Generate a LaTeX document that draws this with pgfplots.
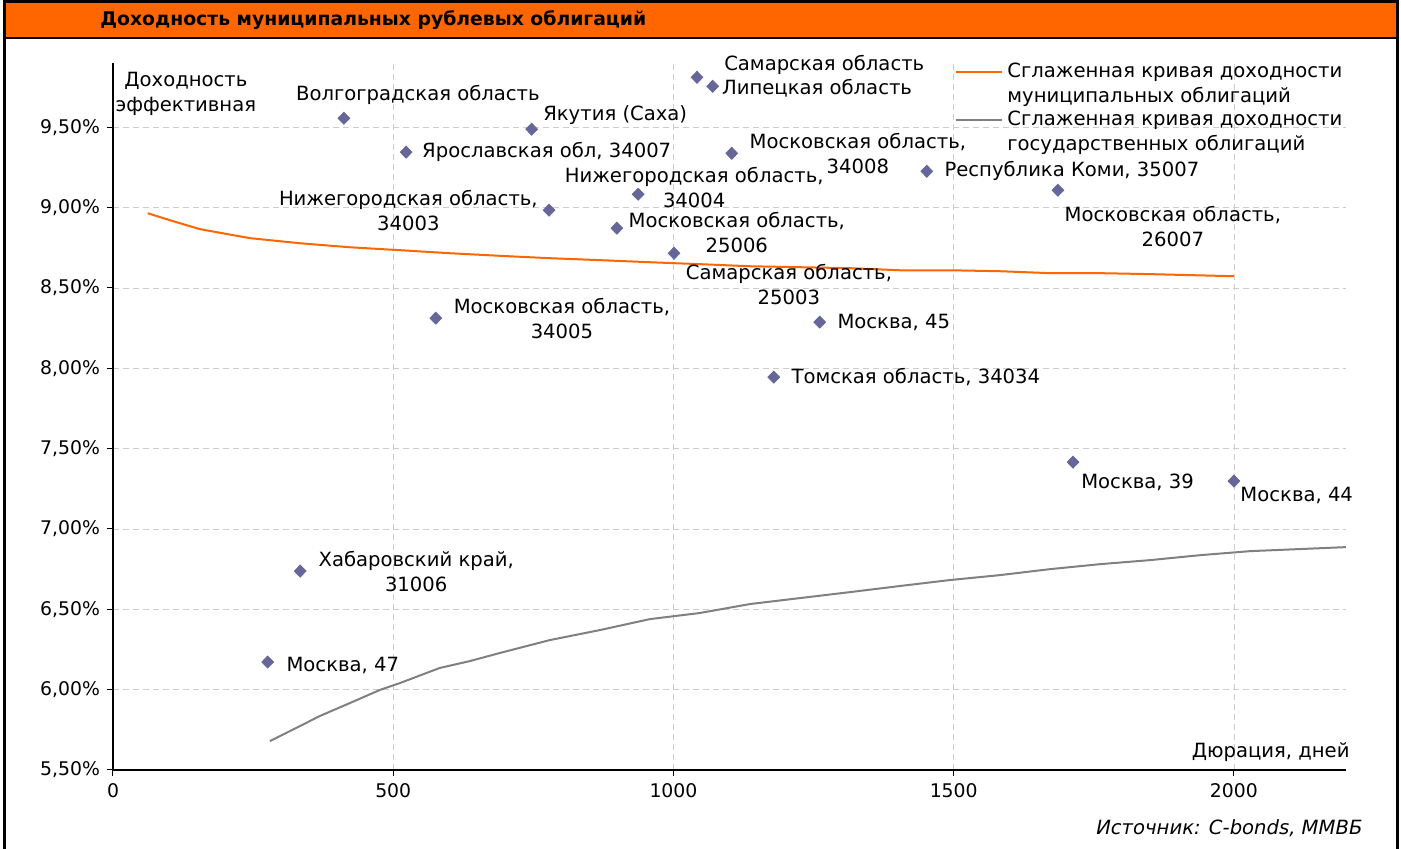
\documentclass[border=0pt]{standalone}
\usepackage{fontspec}
\setmainfont{DejaVu Sans}
\usepackage{pgfplots}
\pgfplotsset{compat=1.18}
\definecolor{orng}{HTML}{FF6600}
\definecolor{dotc}{HTML}{666699}
\definecolor{gcurve}{HTML}{808080}
\newcommand\lbl{\fontsize{9.8}{12.5}\selectfont}
\newcommand\tck{\fontsize{9.4}{12}\selectfont}

\begin{document}
\begin{tikzpicture}
\path[use as bounding box] (-56.5pt,-39.5pt) rectangle (644pt,385pt);
% frame and title bar
\fill[orng] (-54pt,366pt) rectangle (642pt,384pt);
\draw[line width=1.5pt] (-54pt,-41pt) -- (-54pt,384pt) -- (642pt,384pt) -- (642pt,-41pt);
\draw[line width=1.2pt] (-54pt,366pt) -- (642pt,366pt);
\node[anchor=west, font=\tck\bfseries, inner sep=0pt] at (-6.5pt,375pt) {Доходность муниципальных рублевых облигаций};

\begin{axis}[
    at={(0,0)}, anchor=south west,
    scale only axis,
    width=616.5pt, height=353.5pt,
    xmin=0, xmax=2200, ymin=5.5, ymax=9.9,
    axis lines=left,
    axis line style={-, black, line width=0.6pt},
    xtick={0,500,...,2000},
    ytick={5.5,6,...,9.5},
    tick align=outside,
    major tick length=3pt,
    tick style={black, line width=0.5pt},
    xmajorgrids, ymajorgrids,
    grid style={densely dashed, gray!40, line width=0.4pt},
    tick label style={font=\tck},
    /pgf/number format/assume math mode=true,
    /pgf/number format/1000 sep={},
    yticklabel={\pgfmathprintnumber[fixed,fixed zerofill,precision=2,use comma]{\tick}\%},
    clip=false,
    legend style={draw=none, fill=none, at={(rel axis cs:0.678,1.012)},
        anchor=north west, font=\lbl, row sep=-1.5pt,
        cells={align=left, anchor=west}},
    legend image code/.code={\draw[#1] (0pt,6pt) -- (23pt,6pt);},
]
% bonds
\addplot[only marks, mark=diamond*, mark size=3pt,
    mark options={fill=dotc, draw=dotc, xscale=1.3}, forget plot] coordinates {
    (412,9.556) (747,9.488) (1042,9.811) (1070,9.755) (523,9.345)
    (1104,9.338) (1452,9.226) (937,9.083) (1686,9.108) (778,8.984)
    (899,8.872) (1001,8.716) (576,8.312) (1261,8.287) (1179,7.945)
    (1713,7.416) (2000,7.298) (334,6.738) (276,6.172)
};
% smoothed curves
\addplot[orng, line width=1pt, no marks] coordinates {
    (62,8.965) (102,8.921) (155,8.866) (244,8.810) (334,8.778)
    (423,8.753) (512,8.735) (601,8.716) (690,8.700) (780,8.685)
    (869,8.673) (958,8.660) (1047,8.648) (1137,8.635) (1226,8.629)
    (1315,8.623) (1404,8.610) (1493,8.610) (1583,8.604) (1672,8.592)
    (1761,8.592) (1850,8.586) (2000,8.573)
};
\addlegendentry{Сглаженная кривая доходности\\муниципальных облигаций}
\addplot[gcurve, line width=1pt, no marks] coordinates {
    (280,5.680) (316,5.743) (334,5.774) (369,5.836) (423,5.917)
    (476,5.998) (512,6.041) (583,6.135) (637,6.178) (690,6.228)
    (780,6.309) (869,6.371) (958,6.439) (1047,6.477) (1137,6.533)
    (1226,6.570) (1315,6.607) (1404,6.645) (1493,6.682) (1583,6.713)
    (1672,6.750) (1761,6.781) (1850,6.806) (1940,6.837) (2029,6.862)
    (2118,6.875) (2200,6.887)
};
\addlegendentry{Сглаженная кривая доходности\\государственных облигаций}

% labels
\begin{scope}[every node/.style={font=\lbl, inner sep=0pt}]
\node[align=center] at (axis cs:130,9.708) {Доходность\\эффективная};
\node at (axis cs:544,9.699) {Волгоградская область};
\node[anchor=west] at (axis cs:767,9.575) {Якутия (Саха)};
\node[anchor=west] at (axis cs:1090,9.886) {Самарская область};
\node[anchor=west] at (axis cs:1086,9.743) {Липецкая область};
\node[anchor=west] at (axis cs:551,9.345) {Ярославская обл, 34007};
\node[align=center] at (axis cs:1329,9.335) {Московская область,\\34008};
\node[anchor=west] at (axis cs:1483,9.226) {Республика Коми, 35007};
\node[align=center] at (axis cs:1037,9.127) {Нижегородская область,\\34004};
\node[align=center] at (axis cs:527,8.984) {Нижегородская область,\\34003};
\node[align=center] at (axis cs:1113,8.847) {Московская область,\\25006};
\node[align=center] at (axis cs:1206,8.520) {Самарская область,\\25003};
\node[align=center] at (axis cs:801,8.309) {Московская область,\\34005};
\node[anchor=west] at (axis cs:1292,8.287) {Москва, 45};
\node[anchor=west] at (axis cs:1210,7.945) {Томская область, 34034};
\node[align=center] at (axis cs:1891,8.884) {Московская область,\\26007};
\node[anchor=west] at (axis cs:1727,7.292) {Москва, 39};
\node[anchor=west] at (axis cs:2011,7.211) {Москва, 44};
\node[align=center] at (axis cs:541,6.735) {Хабаровский край,\\31006};
\node[anchor=west] at (axis cs:309,6.153) {Москва, 47};
\node[anchor=east] at (axis cs:2207,5.612) {Дюрация, дней};
\node[anchor=east, font=\lbl\itshape] at (axis cs:2230,5.139) {Источник: C-bonds, ММВБ};
\end{scope}
\end{axis}
\end{tikzpicture}
\end{document}
